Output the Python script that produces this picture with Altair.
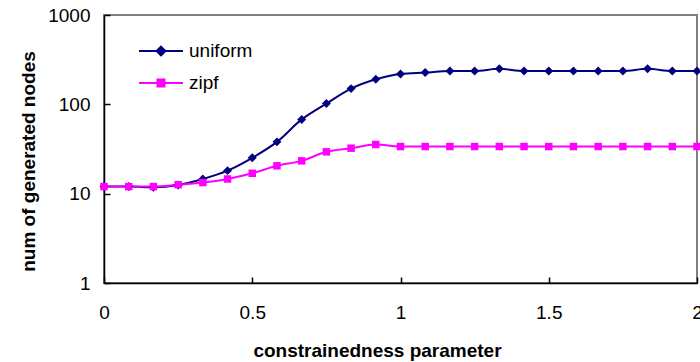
import altair as alt
import pandas as pd

# x values (constrainedness parameter), step 1/12
x_vals = [i / 12 for i in range(25)]
uniform = [12.0, 12.0, 11.8, 12.5, 14.6, 18.1, 25.2, 38.0, 67.8, 102, 150, 191, 219,
           227, 236, 236, 250, 236, 236, 236, 236, 236, 250, 236, 236]
zipf = [12.0, 12.0, 12.0, 12.6, 13.3, 14.6, 16.9, 20.5, 23.3, 29.4, 32.3, 35.5, 33.7,
        33.7, 33.7, 33.7, 33.7, 33.7, 33.7, 33.7, 33.7, 33.7, 33.7, 33.7, 33.7]
series = ["uniform", "zipf"]
colors = ["#000080", "#FF00FF"]
markers = ["diamond", "square"]
marker_sizes = [80, 56]
y_ticks = [1, 10, 100, 1000]
x_ticks = [0, 0.5, 1, 1.5, 2]

rows = []
for xv, u, z in zip(x_vals, uniform, zipf):
    rows.append({"x": xv, "y": u, "series": "uniform"})
    rows.append({"x": xv, "y": z, "series": "zipf"})
df = pd.DataFrame(rows)

FONT = "Liberation Sans"
FS = 19
W, H = 593, 268

x_scale = alt.Scale(domain=[0, 2], nice=False, zero=False)
y_scale = alt.Scale(type="log", domain=[1, 1000], nice=False)

x_axis = alt.Axis(values=x_ticks, title="constrainedness parameter", orient="bottom",
                  labelFontSize=FS, titleFontSize=FS, titleFontWeight="bold",
                  labelPadding=20, ticks=False,
                  titleX=273, titleY=67, titleBaseline="middle", titleAlign="center",
                  labelFlush=False, grid=False, domainColor="black", domainWidth=1.5,
                  labelColor="black", titleColor="black",
                  labelFont=FONT, titleFont=FONT, format="~g")
y_axis = alt.Axis(values=y_ticks, title="num of generated nodes", orient="left",
                  labelFontSize=FS, titleFontSize=FS, titleFontWeight="bold",
                  labelPadding=14, ticks=False,
                  titleX=-76, titleY=146, titleAngle=270, titleBaseline="middle", titleAlign="center",
                  grid=False, domainColor="black", domainWidth=1.5,
                  labelColor="black", titleColor="black",
                  labelFont=FONT, titleFont=FONT, format="d")
# inward ticks: opposite-side axes pulled onto the main axis lines
x_tick_axis = alt.Axis(values=x_ticks, orient="top", offset=-H, labels=False, domain=False,
                       ticks=True, tickSize=6, tickColor="black", tickWidth=1.5,
                       grid=False, title=None)
y_tick_axis = alt.Axis(values=y_ticks, orient="right", offset=-W, labels=False, domain=False,
                       ticks=True, tickSize=6, tickColor="black", tickWidth=1.5,
                       grid=False, title=None)

layers = []
for i, s in enumerate(series):
    base = alt.Chart(df).transform_filter(alt.datum.series == s)
    first = (i == 0)
    layers.append(base.mark_line(interpolate="monotone", strokeWidth=2, color=colors[i]).encode(
        x=alt.X("x:Q", scale=x_scale, axis=x_axis if first else None),
        y=alt.Y("y:Q", scale=y_scale, axis=y_axis if first else None),
    ))
for i, s in enumerate(series):
    base = alt.Chart(df).transform_filter(alt.datum.series == s)
    layers.append(base.mark_point(filled=True, opacity=1, shape=markers[i],
                                  size=marker_sizes[i], color=colors[i]).encode(
        x=alt.X("x:Q", scale=x_scale, axis=None),
        y=alt.Y("y:Q", scale=y_scale, axis=None),
    ))

# Legend-only layer: symbol = line segment + marker
diamond_path = "M-3,0H1M-1,-0.4L-0.6,0L-1,0.4L-1.4,0Z"
square_path = "M-3,0H1M-1.32,-0.32H-0.68V0.32H-1.32Z"
color_scale = alt.Scale(domain=series, range=colors)
leg = alt.Legend(title=None, orient="none", legendX=56, legendY=24,
                 labelFontSize=FS, labelFont=FONT, labelColor="black",
                 symbolSize=484, symbolStrokeWidth=2, symbolOpacity=1,
                 labelOffset=5, rowPadding=10)
layers.append(alt.Chart(df).mark_point(filled=True, opacity=0).encode(
    x=alt.X("x:Q", scale=x_scale, axis=x_tick_axis),
    y=alt.Y("y:Q", scale=y_scale, axis=y_tick_axis),
    fill=alt.Fill("series:N", scale=color_scale, legend=leg),
    stroke=alt.Stroke("series:N", scale=color_scale, legend=leg),
    shape=alt.Shape("series:N", scale=alt.Scale(domain=series, range=[diamond_path, square_path]), legend=leg),
))

chart = alt.layer(*layers).resolve_axis(
    x="independent", y="independent"
).properties(
    width=W, height=H,
    autosize=alt.AutoSizeParams(type="none"),
    padding={"left": 104, "top": 15, "right": 3, "bottom": 79},
    background="white",
).configure_view(stroke="#808080", strokeWidth=2)

chart.save("out.html", embed_options={"renderer": "svg", "actions": False})
